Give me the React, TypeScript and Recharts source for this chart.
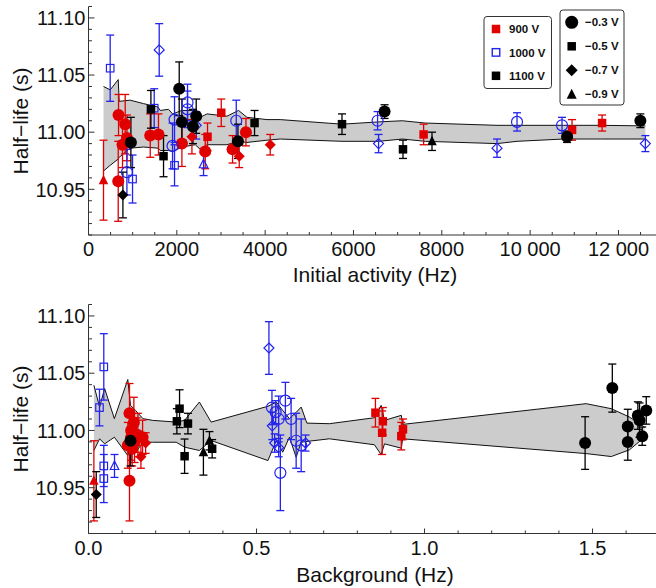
import React from 'react';
import { ComposedChart, Scatter, Area, XAxis, YAxis, ErrorBar } from 'recharts';

type Pt = { x: number; y: number; e: number; b: number };

// ---------- Top panel: half-life vs initial activity (Hz) ----------
const activity900: Pt[] = [
  { x: 340, y: 10.958, e: 0.035, b: -0.9 },
  { x: 673, y: 10.957, e: 0.035, b: -0.3 },
  { x: 680, y: 11.015, e: 0.018, b: -0.3 },
  { x: 831, y: 11.007, e: 0.026, b: -0.3 },
  { x: 770, y: 10.989, e: 0.02, b: -0.3 },
  { x: 870, y: 10.995, e: 0.02, b: -0.3 },
  { x: 1398, y: 10.997, e: 0.019, b: -0.3 },
  { x: 1585, y: 10.998, e: 0.018, b: -0.3 },
  { x: 2115, y: 10.99, e: 0.02, b: -0.3 },
  { x: 2342, y: 10.996, e: 0.015, b: -0.7 },
  { x: 2695, y: 10.996, e: 0.012, b: -0.5 },
  { x: 2643, y: 10.983, e: 0.015, b: -0.3 },
  { x: 3006, y: 11.017, e: 0.012, b: -0.5 },
  { x: 3565, y: 11.0, e: 0.012, b: -0.3 },
  { x: 3262, y: 10.985, e: 0.012, b: -0.3 },
  { x: 3413, y: 10.979, e: 0.01, b: -0.7 },
  { x: 4115, y: 10.989, e: 0.009, b: -0.7 },
  { x: 7588, y: 10.998, e: 0.009, b: -0.5 },
  { x: 10949, y: 11.002, e: 0.009, b: -0.5 },
  { x: 11629, y: 11.008, e: 0.007, b: -0.5 },
];

const activity1000: Pt[] = [
  { x: 491, y: 11.056, e: 0.029, b: -0.5 },
  { x: 1601, y: 11.072, e: 0.023, b: -0.7 },
  { x: 870, y: 10.965, e: 0.02, b: -0.3 },
  { x: 997, y: 10.959, e: 0.021, b: -0.5 },
  { x: 1488, y: 11.021, e: 0.017, b: -0.5 },
  { x: 1903, y: 10.988, e: 0.02, b: -0.3 },
  { x: 1948, y: 10.971, e: 0.018, b: -0.5 },
  { x: 1948, y: 11.011, e: 0.02, b: -0.3 },
  { x: 2242, y: 11.026, e: 0.016, b: -0.3 },
  { x: 2242, y: 11.02, e: 0.016, b: -0.3 },
  { x: 2439, y: 11.006, e: 0.012, b: -0.7 },
  { x: 2605, y: 10.972, e: 0.01, b: -0.9 },
  { x: 3346, y: 11.01, e: 0.018, b: -0.3 },
  { x: 6546, y: 11.01, e: 0.008, b: -0.3 },
  { x: 6568, y: 10.99, e: 0.008, b: -0.7 },
  { x: 9250, y: 10.986, e: 0.008, b: -0.7 },
  { x: 9703, y: 11.009, e: 0.008, b: -0.3 },
  { x: 10722, y: 11.006, e: 0.007, b: -0.3 },
  { x: 12609, y: 10.99, e: 0.007, b: -0.7 },
];

const activity1100: Pt[] = [
  { x: 779, y: 10.945, e: 0.02, b: -0.7 },
  { x: 960, y: 10.991, e: 0.022, b: -0.3 },
  { x: 1413, y: 11.02, e: 0.0165, b: -0.5 },
  { x: 1699, y: 10.979, e: 0.018, b: -0.5 },
  { x: 2054, y: 11.038, e: 0.0235, b: -0.3 },
  { x: 2115, y: 11.009, e: 0.02, b: -0.3 },
  { x: 2439, y: 11.014, e: 0.015, b: -0.3 },
  { x: 2365, y: 11.005, e: 0.015, b: -0.3 },
  { x: 3384, y: 10.992, e: 0.015, b: -0.3 },
  { x: 3760, y: 11.008, e: 0.011, b: -0.5 },
  { x: 5740, y: 11.007, e: 0.009, b: -0.5 },
  { x: 6704, y: 11.018, e: 0.006, b: -0.3 },
  { x: 7121, y: 10.985, e: 0.008, b: -0.5 },
  { x: 7778, y: 10.992, e: 0.008, b: -0.9 },
  { x: 10836, y: 10.996, e: 0.005, b: -0.3 },
  { x: 12496, y: 11.01, e: 0.006, b: -0.3 },
];

const activityBandX = [340, 491, 673, 695, 944, 1246, 1572, 1624, 1812, 1903, 2115, 2417, 2530, 2682, 3135, 3398, 3588, 4041, 4342, 5740, 6569, 7105, 7626, 9250, 9703, 10759, 11613, 12609];
const activityBandHigh = [11.04, 11.037, 11.046, 11.027, 11.028, 11.025, 11.022, 11.019, 11.02, 11.016, 11.019, 11.019, 11.013, 11.016, 11.014, 11.019, 11.013, 11.011, 11.011, 11.007, 11.009, 11.01, 11.008, 11.006, 11.006, 11.006, 11.006, 11.0055];
const activityBandLow = [10.966, 10.971, 10.9765, 10.978, 10.986, 10.987, 10.986, 10.984, 10.984, 10.983, 10.987, 10.989, 10.985, 10.989, 10.989, 10.992, 10.991, 10.993, 10.994, 10.992, 10.992, 10.994, 10.992, 10.99, 10.992, 10.994, 10.994, 10.994];

// ---------- Bottom panel: half-life vs background (Hz) ----------
const background900: Pt[] = [
  { x: 0.016, y: 10.956, e: 0.035, b: -0.9 },
  { x: 0.122, y: 10.956, e: 0.035, b: -0.3 },
  { x: 0.122, y: 11.015, e: 0.026, b: -0.3 },
  { x: 0.135, y: 11.007, e: 0.022, b: -0.3 },
  { x: 0.127, y: 10.994, e: 0.02, b: -0.3 },
  { x: 0.117, y: 10.987, e: 0.02, b: -0.3 },
  { x: 0.147, y: 10.996, e: 0.019, b: -0.3 },
  { x: 0.137, y: 10.99, e: 0.018, b: -0.3 },
  { x: 0.161, y: 10.994, e: 0.015, b: -0.3 },
  { x: 0.127, y: 11.0, e: 0.012, b: -0.3 },
  { x: 0.13, y: 10.984, e: 0.015, b: -0.3 },
  { x: 0.156, y: 10.977, e: 0.01, b: -0.7 },
  { x: 0.143, y: 10.996, e: 0.015, b: -0.7 },
  { x: 0.17, y: 10.989, e: 0.009, b: -0.7 },
  { x: 0.854, y: 11.0155, e: 0.0125, b: -0.5 },
  { x: 0.876, y: 11.008, e: 0.012, b: -0.5 },
  { x: 0.874, y: 10.998, e: 0.019, b: -0.5 },
  { x: 0.931, y: 10.995, e: 0.012, b: -0.5 },
  { x: 0.936, y: 11.001, e: 0.009, b: -0.5 },
];

const background1000: Pt[] = [
  { x: 0.0455, y: 11.0555, e: 0.029, b: -0.5 },
  { x: 0.0327, y: 11.02, e: 0.016, b: -0.5 },
  { x: 0.0455, y: 10.969, e: 0.018, b: -0.5 },
  { x: 0.0455, y: 10.958, e: 0.021, b: -0.5 },
  { x: 0.0774, y: 10.969, e: 0.01, b: -0.9 },
  { x: 0.537, y: 11.072, e: 0.023, b: -0.7 },
  { x: 0.547, y: 11.004, e: 0.012, b: -0.7 },
  { x: 0.554, y: 10.989, e: 0.008, b: -0.7 },
  { x: 0.566, y: 10.985, e: 0.008, b: -0.7 },
  { x: 0.646, y: 10.989, e: 0.007, b: -0.7 },
  { x: 0.546, y: 11.02, e: 0.015, b: -0.3 },
  { x: 0.586, y: 11.026, e: 0.016, b: -0.3 },
  { x: 0.566, y: 11.01, e: 0.02, b: -0.3 },
  { x: 0.603, y: 11.01, e: 0.018, b: -0.3 },
  { x: 0.618, y: 10.991, e: 0.024, b: -0.3 },
  { x: 0.571, y: 10.963, e: 0.033, b: -0.3 },
  { x: 0.633, y: 10.987, e: 0.023, b: -0.3 },
  { x: 0.557, y: 11.016, e: 0.01, b: -0.3 },
];

const background1100: Pt[] = [
  { x: 0.023, y: 10.944, e: 0.02, b: -0.7 },
  { x: 0.125, y: 10.991, e: 0.022, b: -0.3 },
  { x: 0.271, y: 11.019, e: 0.0165, b: -0.5 },
  { x: 0.263, y: 11.008, e: 0.011, b: -0.5 },
  { x: 0.296, y: 11.006, e: 0.009, b: -0.5 },
  { x: 0.286, y: 10.9775, e: 0.015, b: -0.5 },
  { x: 0.368, y: 10.984, e: 0.008, b: -0.5 },
  { x: 0.342, y: 10.981, e: 0.02, b: -0.9 },
  { x: 0.36, y: 10.991, e: 0.008, b: -0.9 },
  { x: 1.478, y: 10.989, e: 0.023, b: -0.3 },
  { x: 1.559, y: 11.037, e: 0.021, b: -0.3 },
  { x: 1.605, y: 11.0035, e: 0.015, b: -0.3 },
  { x: 1.605, y: 10.99, e: 0.016, b: -0.3 },
  { x: 1.635, y: 11.013, e: 0.012, b: -0.3 },
  { x: 1.64, y: 11.009, e: 0.015, b: -0.3 },
  { x: 1.66, y: 11.0175, e: 0.012, b: -0.3 },
  { x: 1.648, y: 10.995, e: 0.008, b: -0.3 },
];

const backgroundBandX = [0.016, 0.033, 0.048, 0.077, 0.117, 0.125, 0.14, 0.162, 0.191, 0.261, 0.286, 0.33, 0.365, 0.534, 0.559, 0.578, 0.598, 0.618, 0.633, 0.65, 0.717, 0.851, 0.871, 0.881, 0.931, 0.935, 1.481, 1.556, 1.61, 1.655];
const backgroundBandHigh = [11.0395, 11.0204, 11.0366, 11.0103, 11.0445, 11.0219, 11.0175, 11.0103, 11.0088, 11.0073, 11.0088, 11.0248, 11.0073, 11.0211, 11.0248, 11.0175, 11.0103, 11.0158, 11.0204, 11.0064, 11.0059, 11.0111, 11.0219, 11.0088, 11.0132, 11.0053, 11.0234, 11.019, 11.0117, 11.0029];
const backgroundBandLow = [10.9825, 10.9927, 10.9883, 10.9941, 10.9781, 10.9854, 10.9807, 10.9897, 10.9897, 10.9897, 10.9854, 10.9825, 10.9912, 10.9737, 10.9912, 10.981, 10.9941, 10.9766, 10.9897, 10.9904, 10.9927, 10.9875, 10.9789, 10.9883, 10.9845, 10.9927, 10.9798, 10.9772, 10.9831, 10.9941];

// ---------- Ticks ----------
const activityTickValues = [0, 2000, 4000, 6000, 8000, 10000, 12000];
const activityTickLabels = ['0', '2000', '4000', '6000', '8000', '10 000', '12 000'];
const backgroundTickValues = [0, 0.5, 1.0, 1.5];
const backgroundTickLabels = ['0.0', '0.5', '1.0', '1.5'];
const halfLifeTickValues = [10.95, 11.0, 11.05, 11.1];
const halfLifeTickLabels = ['10.95', '11.00', '11.05', '11.10'];

const activityAllTicks = Array.from({ length: 26 }, (_, i) => i * 500);
const backgroundAllTicks = Array.from({ length: 17 }, (_, i) => i / 10);
const halfLifeAllTicks = Array.from({ length: 21 }, (_, i) => (1091 + i) / 100);

const legendVoltages = ['900 V', '1000 V', '1100 V'];
const legendBias = ['\u22120.3 V', '\u22120.5 V', '\u22120.7 V', '\u22120.9 V'];
const legendBiasValues = [-0.3, -0.5, -0.7, -0.9];

const FONT = "'Liberation Sans', Arial, Helvetica, sans-serif";
const RED = '#e00000';
const BLUE = '#2323ee';
const BLACK = '#000000';
const FRAME = '#333333';
const BAND = '#cccccc';

const findMajor = (majors: number[], v: number) => majors.findIndex((m) => Math.abs(m - v) < 1e-6);

const makeXTick = (majors: number[], labels: string[], side: 'bottom' | 'top') => (props: any) => {
  const { x, y, payload } = props;
  const idx = findMajor(majors, payload.value);
  const len = idx >= 0 ? 5 : 3;
  const dir = side === 'bottom' ? -1 : 1;
  return (
    <g>
      <line x1={x} x2={x} y1={y} y2={y + dir * len} stroke={FRAME} strokeWidth={1} />
      {side === 'bottom' && idx >= 0 && (
        <text x={x} y={y + 21} textAnchor="middle" fontSize={20} fontFamily={FONT} fill="#111">
          {labels[idx]}
        </text>
      )}
    </g>
  );
};

const yTick = (props: any) => {
  const { x, y, payload } = props;
  const idx = findMajor(halfLifeTickValues, payload.value);
  const len = idx >= 0 ? 6 : 3.5;
  return (
    <g>
      <line x1={x} x2={x + len} y1={y} y2={y} stroke={FRAME} strokeWidth={1} />
      {idx >= 0 && (
        <text x={x - 3} y={y} dy="0.36em" textAnchor="end" fontSize={20} fontFamily={FONT} fill="#111">
          {halfLifeTickLabels[idx]}
        </text>
      )}
    </g>
  );
};

function Marker(props: any) {
  const { cx, cy, payload, color, open } = props;
  if (cx == null || cy == null || !payload) return null;
  const b = payload.b;
  const fill = open ? 'none' : color;
  const stroke = open ? color : 'none';
  const sw = open ? 1.2 : 0;
  if (b === -0.3) {
    return <circle cx={cx} cy={cy} r={open ? 5.5 : 6} fill={fill} stroke={stroke} strokeWidth={sw} />;
  }
  if (b === -0.5) {
    const s = open ? 7.5 : 8.5;
    return <rect x={cx - s / 2} y={cy - s / 2} width={s} height={s} fill={fill} stroke={stroke} strokeWidth={sw} />;
  }
  if (b === -0.7) {
    const d = open ? 5 : 5.5;
    return (
      <polygon
        points={`${cx},${cy - d} ${cx + d},${cy} ${cx},${cy + d} ${cx - d},${cy}`}
        fill={fill}
        stroke={stroke}
        strokeWidth={sw}
      />
    );
  }
  const h = open ? 8.5 : 9.5;
  return (
    <polygon
      points={`${cx},${cy - h * 0.58} ${cx + h / 2},${cy + h * 0.42} ${cx - h / 2},${cy + h * 0.42}`}
      fill={fill}
      stroke={stroke}
      strokeWidth={sw}
    />
  );
}

type Series = { data: Pt[]; color: string; open: boolean; name: string };

function Panel(props: {
  top: number;
  height: number;
  marginTop: number;
  xAxisHeight: number;
  band: { x: number; range: number[] }[];
  xDomain: number[];
  xTicks: number[];
  xMajor: number[];
  xLabels: string[];
  series: Series[];
}) {
  const { top, height, marginTop, xAxisHeight, band, xDomain, xTicks, xMajor, xLabels, series } = props;
  return (
    <div style={{ position: 'absolute', left: 0, top, width: 656, height }}>
      <ComposedChart width={656} height={height} data={band} margin={{ top: marginTop, right: 0, bottom: 0, left: 0 }}>
        <XAxis
          dataKey="x"
          type="number"
          domain={xDomain}
          allowDataOverflow
          ticks={xTicks}
          interval={0}
          height={xAxisHeight}
          tickSize={0}
          tickMargin={0}
          tickLine={false}
          axisLine={{ stroke: FRAME, strokeWidth: 1 }}
          tick={makeXTick(xMajor, xLabels, 'bottom')}
        />
        <XAxis
          xAxisId="top"
          orientation="top"
          dataKey="x"
          type="number"
          domain={xDomain}
          allowDataOverflow
          ticks={xTicks}
          interval={0}
          height={0}
          tickSize={0}
          tickMargin={0}
          tickLine={false}
          axisLine={{ stroke: FRAME, strokeWidth: 1 }}
          tick={makeXTick(xMajor, xLabels, 'top')}
        />
        <YAxis
          type="number"
          domain={[10.91, 11.11]}
          allowDataOverflow
          ticks={halfLifeAllTicks}
          interval={0}
          width={88.5}
          tickSize={0}
          tickMargin={0}
          tickLine={false}
          axisLine={{ stroke: FRAME, strokeWidth: 1 }}
          tick={yTick}
        />
        <Area
          dataKey="range"
          type="linear"
          fill={BAND}
          fillOpacity={1}
          stroke="#111"
          strokeWidth={1}
          dot={false}
          activeDot={false}
          isAnimationActive={false}
        />
        {series.map((s) => (
          <Scatter
            key={s.name}
            name={s.name}
            data={s.data}
            dataKey="y"
            isAnimationActive={false}
            shape={(p: any) => <Marker {...p} color={s.color} open={s.open} />}
          >
            <ErrorBar dataKey="e" direction="y" width={4} stroke={s.color} strokeWidth={1.3} isAnimationActive={false} />
          </Scatter>
        ))}
      </ComposedChart>
    </div>
  );
}

function LegendIcon({ cx, cy, b, color, open }: { cx: number; cy: number; b: number; color: string; open: boolean }) {
  const fill = open ? 'none' : color;
  const stroke = open ? color : 'none';
  const sw = open ? 1.4 : 0;
  if (b === -0.3) return <circle cx={cx} cy={cy} r={6.5} fill={fill} />;
  if (b === -0.5 || b === 0) {
    const s = open ? 7.5 : 8.5;
    return <rect x={cx - s / 2} y={cy - s / 2} width={s} height={s} fill={fill} stroke={stroke} strokeWidth={sw} />;
  }
  if (b === -0.7) {
    const d = 6;
    return <polygon points={`${cx},${cy - d} ${cx + d},${cy} ${cx},${cy + d} ${cx - d},${cy}`} fill={fill} />;
  }
  const h = 10;
  return <polygon points={`${cx},${cy - h * 0.55} ${cx + h / 2},${cy + h * 0.45} ${cx - h / 2},${cy + h * 0.45}`} fill={fill} />;
}

export default function App() {
  const activityBand = activityBandX.map((x, i) => ({ x, range: [activityBandLow[i], activityBandHigh[i]] }));
  const backgroundBand = backgroundBandX.map((x, i) => ({ x, range: [backgroundBandLow[i], backgroundBandHigh[i]] }));

  const topSeries: Series[] = [
    { name: '900 V', data: activity900, color: RED, open: false },
    { name: '1000 V', data: activity1000, color: BLUE, open: true },
    { name: '1100 V', data: activity1100, color: BLACK, open: false },
  ];
  const bottomSeries: Series[] = [
    { name: '900 V', data: background900, color: RED, open: false },
    { name: '1000 V', data: background1000, color: BLUE, open: true },
    { name: '1100 V', data: background1100, color: BLACK, open: false },
  ];
  const voltageColors = [RED, BLUE, BLACK];
  const voltageOpen = [false, true, false];

  return (
    <div style={{ position: 'absolute', left: 0, top: 0, width: 656, height: 588, background: '#fff', overflow: 'hidden' }}>
      <Panel
        top={0}
        height={290}
        marginTop={6.5}
        xAxisHeight={55}
        band={activityBand}
        xDomain={[0, 12850]}
        xTicks={activityAllTicks}
        xMajor={activityTickValues}
        xLabels={activityTickLabels}
        series={topSeries}
      />
      <Panel
        top={290}
        height={298}
        marginTop={14.5}
        xAxisHeight={54.5}
        band={backgroundBand}
        xDomain={[0, 1.689]}
        xTicks={backgroundAllTicks}
        xMajor={backgroundTickValues}
        xLabels={backgroundTickLabels}
        series={bottomSeries}
      />
      <svg width={656} height={588} style={{ position: 'absolute', left: 0, top: 0, pointerEvents: 'none' }}>
        <text transform="translate(28,121) rotate(-90)" textAnchor="middle" fontSize={21} fontFamily={FONT} fill="#111">
          Half{'\u2212'}life (s)
        </text>
        <text transform="translate(28,419) rotate(-90)" textAnchor="middle" fontSize={21} fontFamily={FONT} fill="#111">
          Half{'\u2212'}life (s)
        </text>
        <text x={375} y={282} textAnchor="middle" fontSize={21} fontFamily={FONT} fill="#111">
          Initial activity (Hz)
        </text>
        <text x={375} y={582} textAnchor="middle" fontSize={21} fontFamily={FONT} fill="#111">
          Background (Hz)
        </text>

        <rect x={484} y={16.5} width={67.5} height={72} rx={3} fill="#fff" stroke={FRAME} strokeWidth={1} />
        {legendVoltages.map((label, i) => {
          const cy = 29 + i * 23.4;
          return (
            <g key={label}>
              <LegendIcon cx={496} cy={cy} b={0} color={voltageColors[i]} open={voltageOpen[i]} />
              <text x={509} y={cy} dy="0.36em" fontSize={11.5} fontWeight="bold" fontFamily={FONT} fill="#111">
                {label}
              </text>
            </g>
          );
        })}

        <rect x={560} y={10} width={64} height={95} rx={3} fill="#fff" stroke={FRAME} strokeWidth={1} />
        {legendBias.map((label, i) => {
          const cy = 22.3 + i * 24;
          return (
            <g key={label}>
              <LegendIcon cx={571.7} cy={cy} b={legendBiasValues[i]} color={BLACK} open={false} />
              <text x={585} y={cy} dy="0.36em" fontSize={11.5} fontWeight="bold" fontFamily={FONT} fill="#111">
                {label}
              </text>
            </g>
          );
        })}
      </svg>
    </div>
  );
}
